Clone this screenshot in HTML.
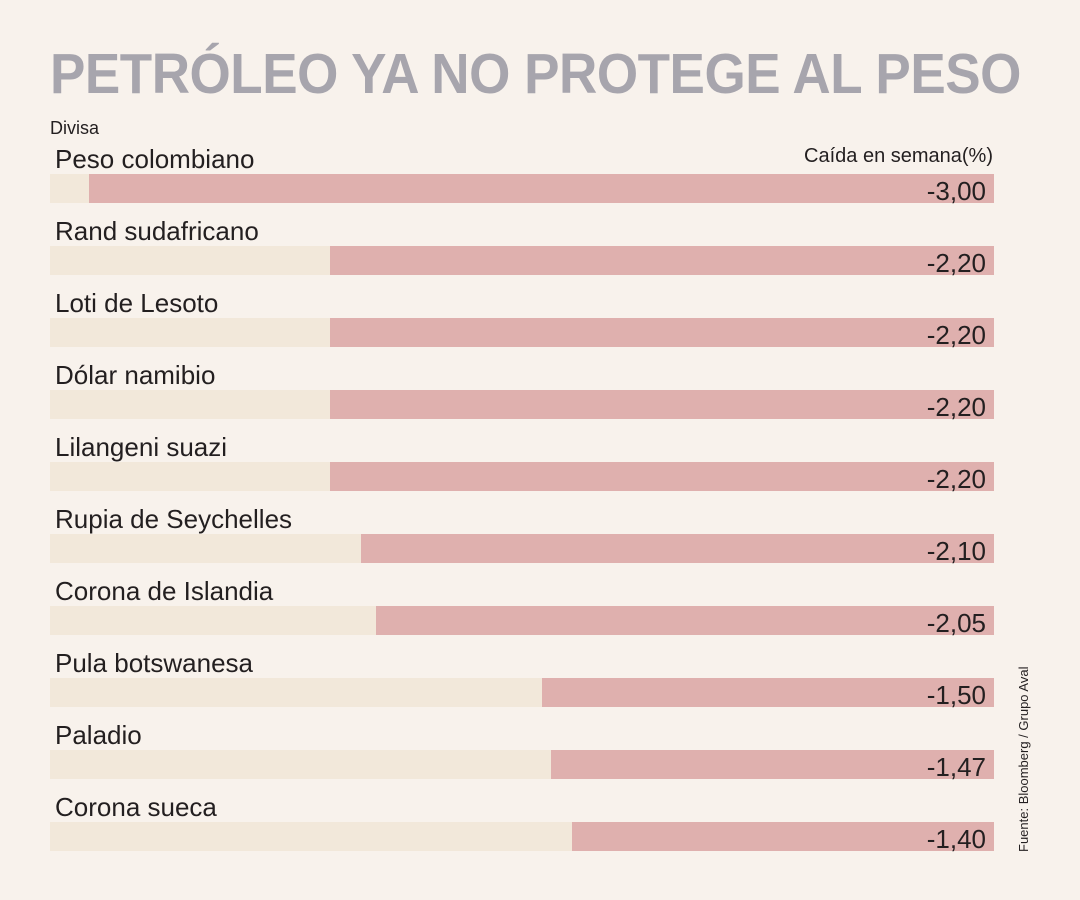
<!DOCTYPE html>
<html><head><meta charset="utf-8"><style>
body{margin:0;width:1080px;height:900px;background:#f8f2ec;overflow:hidden;font-family:"Liberation Sans",sans-serif;position:relative}
.t{position:absolute;left:50px;top:41px;font-size:57px;font-weight:bold;color:#a7a5ad;letter-spacing:-0.5px;white-space:nowrap;transform:scaleX(0.93);transform-origin:left}
.abs{position:absolute;white-space:nowrap;color:#231f20}
</style></head><body>
<div class="t">PETRÓLEO YA NO PROTEGE AL PESO</div>
<div class="abs" style="left:50px;top:118px;font-size:18px">Divisa</div>
<div class="abs" style="right:87px;top:145px;font-size:20px">Caída en semana(%)</div>
<div class="abs" style="left:1016px;top:852px;font-size:13px;transform:rotate(-90deg);transform-origin:left top">Fuente: Bloomberg / Grupo Aval</div>
<div id="chart"></div>
<script>
const categories=["Peso colombiano","Rand sudafricano","Loti de Lesoto","Dólar namibio","Lilangeni suazi","Rupia de Seychelles","Corona de Islandia","Pula botswanesa","Paladio","Corona sueca"];
const values=[-3.00,-2.20,-2.20,-2.20,-2.20,-2.10,-2.05,-1.50,-1.47,-1.40];
const labels=["-3,00","-2,20","-2,20","-2,20","-2,20","-2,10","-2,05","-1,50","-1,47","-1,40"];
const c=document.getElementById('chart');
const right=994,left=50,scale=301.6;
const x=v=>right-Math.abs(v)*scale;
values.forEach((v,i)=>{
  const top=174+i*72;
  const tr=document.createElement('div');
  
  
  tr.style.cssText=`position:absolute;left:${left}px;top:${top}px;width:${right-left}px;height:29px;background:#f2e8da`;
  c.appendChild(tr);
  const b=document.createElement('div');
  
  
  b.style.cssText=`position:absolute;left:${x(v)}px;top:${top}px;width:${right-x(v)}px;height:29px;background:#dfb0ae`;
  c.appendChild(b);
  const l=document.createElement('div');
  
  
  l.className='abs';
  l.style.cssText=`left:55px;top:${top-30}px;font-size:26px`;
  l.textContent=categories[i];
  c.appendChild(l);
  const vl=document.createElement('div');
  
  
  vl.className='abs';
  vl.style.cssText=`right:${1080-986}px;top:${top+3}px;font-size:26px;line-height:29px`;
  vl.textContent=labels[i];
  c.appendChild(vl);
});
</script>
</body></html>
